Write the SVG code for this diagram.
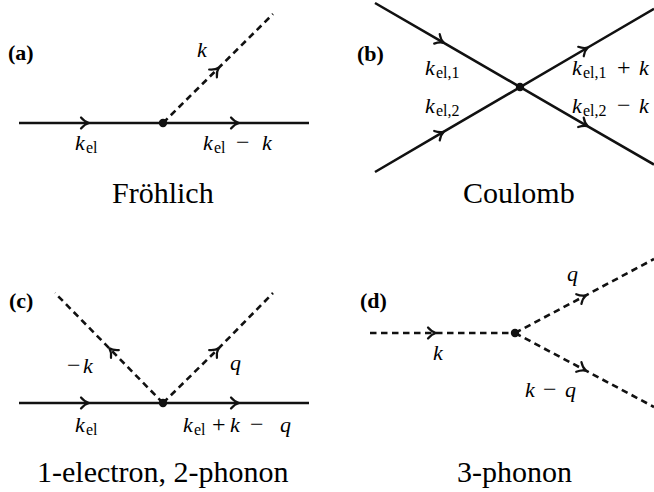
<svg xmlns="http://www.w3.org/2000/svg" width="654" height="492" viewBox="0 0 654 492">
<style>
.el{fill:none;stroke:#111;stroke-width:2.6;marker-mid:url(#ar)}
.ph{fill:none;stroke:#111;stroke-width:2.6;stroke-dasharray:6.5 4.5;marker-mid:url(#ar)}
.dot{fill:#111}
</style>
<defs>
<marker id="ar" markerUnits="userSpaceOnUse" orient="auto" overflow="visible" markerWidth="20" markerHeight="20" refX="0" refY="0">
<path d="M-7,-5.5 C-4.5,-2.5 -2,-0.7 1,0 C-2,0.7 -4.5,2.5 -7,5.5" fill="none" stroke="#111" stroke-width="2.2" stroke-linecap="round"/>
</marker>
</defs>
<rect width="654" height="492" fill="#fff"/>
<g id="captions">
<text x="112" y="203" font-family="Liberation Serif" font-size="30">Fröhlich</text>
<text x="463" y="203" font-family="Liberation Serif" font-size="30">Coulomb</text>
<text x="37" y="482" font-family="Liberation Serif" font-size="30">1-electron, 2-phonon</text>
<text x="457" y="482" font-family="Liberation Serif" font-size="30">3-phonon</text>
</g>
<g id="connectors">
<path class="el" d="M19,123 L88,123 L238,123 L309,123"/>
<path class="ph" d="M163,123 L218,68.5 L273,14"/>
<path class="el" d="M375,3 L443,42.4 L587,125.8 L654,164.6"/>
<path class="el" d="M375,172 L443,132.2 L587,48 L654,8.8"/>
<path class="el" d="M19,403 L88,403 L238,403 L309,403"/>
<path class="ph" d="M163,403 L110,349 L55,293"/>
<path class="ph" d="M163,403 L218,349 L273,293"/>
<path class="ph" d="M370,333 L435,333 L515,333"/>
<path class="ph" d="M515,333 L585,295.8 L654,259"/>
<path class="ph" d="M515,333 L585,370.2 L654,407"/>
</g>
<g id="vertex-a"><circle class="dot" cx="163" cy="123" r="4.2"/></g>
<g id="vertex-b"><circle class="dot" cx="520" cy="87" r="4.2"/></g>
<g id="vertex-c"><circle class="dot" cx="163" cy="403" r="4.2"/></g>
<g id="vertex-d"><circle class="dot" cx="515" cy="333" r="4.2"/></g>
<g id="momentum-labels">
<text x="197" y="57" font-family="Liberation Serif" font-size="22" font-style="italic">k</text>
<text x="75" y="150" font-family="Liberation Serif" font-size="22" font-style="italic">k<tspan font-size="16" font-style="normal" x="86" y="153">el</tspan></text>
<text x="203" y="150" font-family="Liberation Serif" font-size="22" font-style="italic">k<tspan font-size="16" font-style="normal" x="214" y="153">el</tspan><tspan font-size="24" font-style="normal" x="236" y="150">−</tspan><tspan x="262" y="150">k</tspan></text>
<text x="425" y="75" font-family="Liberation Serif" font-size="22" font-style="italic">k<tspan font-size="16" font-style="normal" x="436" y="78">el,1</tspan></text>
<text x="425" y="113" font-family="Liberation Serif" font-size="22" font-style="italic">k<tspan font-size="16" font-style="normal" x="436" y="116">el,2</tspan></text>
<text x="572" y="75" font-family="Liberation Serif" font-size="22" font-style="italic">k<tspan font-size="16" font-style="normal" x="583" y="78">el,1</tspan><tspan font-size="24" font-style="normal" x="617" y="75">+</tspan><tspan x="639" y="75">k</tspan></text>
<text x="572" y="113" font-family="Liberation Serif" font-size="22" font-style="italic">k<tspan font-size="16" font-style="normal" x="583" y="116">el,2</tspan><tspan font-size="24" font-style="normal" x="617" y="113">−</tspan><tspan x="639" y="113">k</tspan></text>
<text x="67" y="373" font-family="Liberation Serif" font-size="22" font-style="italic"><tspan font-size="24" font-style="normal">−</tspan><tspan x="83">k</tspan></text>
<text x="230" y="370" font-family="Liberation Serif" font-size="22" font-style="italic">q</text>
<text x="75" y="432" font-family="Liberation Serif" font-size="22" font-style="italic">k<tspan font-size="16" font-style="normal" x="86" y="435">el</tspan></text>
<text x="183" y="432" font-family="Liberation Serif" font-size="22" font-style="italic">k<tspan font-size="16" font-style="normal" x="194" y="435">el</tspan><tspan font-size="24" font-style="normal" x="212" y="432">+</tspan><tspan x="230" y="432">k</tspan><tspan font-size="24" font-style="normal" x="250" y="432">−</tspan><tspan x="280" y="432">q</tspan></text>
<text x="433" y="360" font-family="Liberation Serif" font-size="22" font-style="italic">k</text>
<text x="567" y="281" font-family="Liberation Serif" font-size="22" font-style="italic">q</text>
<text x="525" y="397" font-family="Liberation Serif" font-size="22" font-style="italic">k<tspan font-size="24" font-style="normal" x="543" y="397">−</tspan><tspan x="565" y="397">q</tspan></text>
</g>
<g id="panel-letters">
<text x="8" y="60" font-family="Liberation Serif" font-size="22" font-weight="bold">(a)</text>
<text x="357" y="61" font-family="Liberation Serif" font-size="22" font-weight="bold">(b)</text>
<text x="9" y="308" font-family="Liberation Serif" font-size="22" font-weight="bold">(c)</text>
<text x="360" y="308" font-family="Liberation Serif" font-size="22" font-weight="bold">(d)</text>
</g>
</svg>
